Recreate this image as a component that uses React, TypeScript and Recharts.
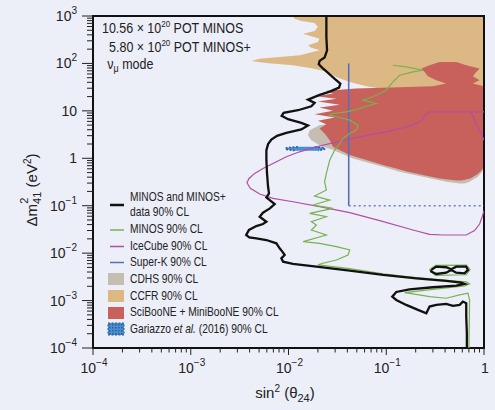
import { ComposedChart, XAxis, YAxis, Area, Scatter, ReferenceArea, Legend } from 'recharts';

type Pt = { x: number; y: number };
type Band = { y: number; x: [number, number] };

// MINOS + MINOS+ combined 90% CL contour (black)
const MINOS_PLUS: Pt[] = [
  { x: 0.0244, y: 1000 }, { x: 0.0244, y: 361 }, { x: 0.0248, y: 189 }, { x: 0.0234, y: 133 },
  { x: 0.0208, y: 113 }, { x: 0.0204, y: 96 }, { x: 0.0222, y: 80.4 }, { x: 0.0254, y: 63.1 },
  { x: 0.0297, y: 47.2 }, { x: 0.0339, y: 37.6 }, { x: 0.0329, y: 31 }, { x: 0.0264, y: 25.5 },
  { x: 0.0205, y: 21.4 }, { x: 0.01583, y: 17.3 }, { x: 0.0185, y: 14.7 }, { x: 0.01713, y: 12.5 },
  { x: 0.0125, y: 10.3 }, { x: 0.00892, y: 9.08 }, { x: 0.00851, y: 7.85 }, { x: 0.00988, y: 6.68 },
  { x: 0.01353, y: 5.59 }, { x: 0.01583, y: 4.91 }, { x: 0.01353, y: 4.05 }, { x: 0.0095, y: 3.44 },
  { x: 0.00763, y: 2.98 }, { x: 0.00668, y: 2.49 }, { x: 0.00618, y: 1.99 }, { x: 0.00594, y: 1.49 },
  { x: 0.00594, y: 0.914 }, { x: 0.00603, y: 0.48 }, { x: 0.00618, y: 0.251 }, { x: 0.00632, y: 0.182 },
  { x: 0.00594, y: 0.1497 }, { x: 0.00652, y: 0.1274 }, { x: 0.00722, y: 0.1084 }, { x: 0.00645, y: 0.0879 },
  { x: 0.00548, y: 0.0713 }, { x: 0.00507, y: 0.0586 }, { x: 0.00594, y: 0.046 }, { x: 0.00548, y: 0.0411 },
  { x: 0.00469, y: 0.0373 }, { x: 0.00394, y: 0.0308 }, { x: 0.00369, y: 0.0241 }, { x: 0.00397, y: 0.0215 },
  { x: 0.00469, y: 0.0205 }, { x: 0.00594, y: 0.0189 }, { x: 0.00751, y: 0.0161 }, { x: 0.00812, y: 0.01264 },
  { x: 0.00865, y: 0.01076 }, { x: 0.00914, y: 0.00915 }, { x: 0.00845, y: 0.00778 }, { x: 0.00879, y: 0.00662 },
  { x: 0.0111, y: 0.00591 }, { x: 0.0193, y: 0.0052 }, { x: 0.0423, y: 0.00428 }, { x: 0.0927, y: 0.00347 },
  { x: 0.203, y: 0.00295 }, { x: 0.411, y: 0.00259 }, { x: 0.585, y: 0.00239 }, { x: 0.633, y: 0.00224 },
  { x: 0.52, y: 0.00207 }, { x: 0.3, y: 0.00191 }, { x: 0.173, y: 0.00173 }, { x: 0.1266, y: 0.00152 },
  { x: 0.1152, y: 0.00121 }, { x: 0.1266, y: 0.00103 }, { x: 0.16, y: 0.00081 }, { x: 0.211, y: 0.000636 },
  { x: 0.257, y: 0.000541 }, { x: 0.2775, y: 0.000748 }, { x: 0.325, y: 0.00081 }, { x: 0.411, y: 0.000851 },
  { x: 0.481, y: 0.000773 }, { x: 0.563, y: 0.00081 }, { x: 0.608, y: 0.000952 }, { x: 0.658, y: 0.000879 },
  { x: 0.658, y: 0.00046 }, { x: 0.668, y: 0.000205 }, { x: 0.668, y: 0.0001 },
];

const MINOS_PLUS_ISLAND: Pt[] = [
  { x: 0.289, y: 0.00443 }, { x: 0.325, y: 0.0052 }, { x: 0.411, y: 0.00504 }, { x: 0.462, y: 0.00457 },
  { x: 0.52, y: 0.0052 }, { x: 0.658, y: 0.0052 }, { x: 0.685, y: 0.00443 }, { x: 0.633, y: 0.00376 },
  { x: 0.52, y: 0.00388 }, { x: 0.462, y: 0.00443 }, { x: 0.411, y: 0.00388 }, { x: 0.325, y: 0.00364 },
  { x: 0.289, y: 0.00408 }, { x: 0.289, y: 0.00443 },
];

// MINOS only 90% CL (green)
const MINOS: Pt[] = [
  { x: 0.117, y: 91.5 }, { x: 0.16, y: 84.4 }, { x: 0.237, y: 71.8 }, { x: 0.1875, y: 66.2 },
  { x: 0.137, y: 56.4 }, { x: 0.117, y: 40.8 }, { x: 0.1, y: 27.2 }, { x: 0.0792, y: 21.4 },
  { x: 0.0651, y: 18.2 }, { x: 0.0578, y: 16.8 }, { x: 0.0792, y: 14.3 }, { x: 0.0626, y: 12.5 },
  { x: 0.0494, y: 10.7 }, { x: 0.0391, y: 9.53 }, { x: 0.0285, y: 8.79 }, { x: 0.0264, y: 8.11 },
  { x: 0.0334, y: 7.24 }, { x: 0.0423, y: 6.36 }, { x: 0.0514, y: 4.99 }, { x: 0.0494, y: 3.92 },
  { x: 0.0423, y: 3.33 }, { x: 0.0361, y: 2.62 }, { x: 0.0334, y: 2.05 }, { x: 0.0297, y: 1.49 },
  { x: 0.0264, y: 0.914 }, { x: 0.0244, y: 0.48 }, { x: 0.0234, y: 0.32 }, { x: 0.0244, y: 0.214 },
  { x: 0.0185, y: 0.16 }, { x: 0.0264, y: 0.1316 }, { x: 0.0178, y: 0.1033 }, { x: 0.0285, y: 0.0879 },
  { x: 0.01646, y: 0.069 }, { x: 0.0244, y: 0.0586 }, { x: 0.01713, y: 0.046 }, { x: 0.0193, y: 0.0392 },
  { x: 0.01713, y: 0.0308 }, { x: 0.0244, y: 0.0241 }, { x: 0.0141, y: 0.01746 }, { x: 0.0208, y: 0.0161 },
  { x: 0.0309, y: 0.0137 }, { x: 0.0423, y: 0.01167 }, { x: 0.0406, y: 0.00915 }, { x: 0.0309, y: 0.00718 },
  { x: 0.0225, y: 0.00611 }, { x: 0.02, y: 0.00564 }, { x: 0.0423, y: 0.00472 }, { x: 0.0927, y: 0.00364 },
  { x: 0.203, y: 0.00305 }, { x: 0.4445, y: 0.00264 }, { x: 0.658, y: 0.00247 }, { x: 0.712, y: 0.00224 },
  { x: 0.633, y: 0.00204 }, { x: 0.3, y: 0.00173 }, { x: 0.154, y: 0.00147 }, { x: 0.1875, y: 0.00138 },
  { x: 0.2775, y: 0.00121 }, { x: 0.411, y: 0.00112 }, { x: 0.563, y: 0.00132 }, { x: 0.685, y: 0.00143 },
  { x: 0.712, y: 0.00103 }, { x: 0.701, y: 0.0001 },
];

const MINOS_ISLAND: Pt[] = [
  { x: 0.275, y: 0.0044 }, { x: 0.32, y: 0.0055 }, { x: 0.66, y: 0.0056 }, { x: 0.72, y: 0.0045 },
  { x: 0.66, y: 0.0035 }, { x: 0.32, y: 0.0034 }, { x: 0.275, y: 0.0044 },
];

// IceCube 90% CL (magenta)
const ICECUBE: Pt[] = [
  { x: 1, y: 9.53 }, { x: 0.2775, y: 9.53 }, { x: 0.247, y: 8.11 }, { x: 0.228, y: 6.16 },
  { x: 0.195, y: 5.41 }, { x: 0.173, y: 4.75 }, { x: 0.137, y: 4.25 }, { x: 0.108, y: 3.73 },
  { x: 0.0732, y: 3.23 }, { x: 0.0457, y: 2.62 }, { x: 0.0285, y: 2.12 }, { x: 0.0193, y: 1.75 },
  { x: 0.013, y: 1.37 }, { x: 0.0095, y: 1.076 }, { x: 0.00694, y: 0.778 }, { x: 0.00548, y: 0.611 },
  { x: 0.00451, y: 0.48 }, { x: 0.00394, y: 0.376 }, { x: 0.00376, y: 0.305 }, { x: 0.00407, y: 0.232 },
  { x: 0.00507, y: 0.176 }, { x: 0.00694, y: 0.1426 }, { x: 0.0111, y: 0.1214 }, { x: 0.0208, y: 0.0953 },
  { x: 0.0423, y: 0.0713 }, { x: 0.0857, y: 0.0483 }, { x: 0.1875, y: 0.0308 }, { x: 0.2775, y: 0.0249 },
  { x: 0.38, y: 0.0241 }, { x: 0.658, y: 0.0241 }, { x: 0.801, y: 0.0298 }, { x: 0.901, y: 0.0411 },
  { x: 0.959, y: 0.0586 }, { x: 1, y: 0.0785 },
];

const ICECUBE_BRANCH: Pt[] = [
  { x: 0.741, y: 9.53 }, { x: 0.77, y: 7.48 }, { x: 0.846, y: 4.99 }, { x: 0.937, y: 3.33 }, { x: 1, y: 2.4 },
];

// Super-K 90% CL (blue): solid vertical, dotted continuation
const SUPERK: Pt[] = [{ x: 0.0413, y: 100 }, { x: 0.0413, y: 0.1 }];
const SUPERK_DOTTED: Pt[] = [{ x: 0.0413, y: 0.1 }, { x: 1, y: 0.1 }];

// CCFR 90% CL (tan) excluded band at each dm2
const CCFR: Band[] = [
  { y: 1000, x: [0.0111, 1] }, { y: 879, x: [0.01156, 1] }, { y: 785, x: [0.01353, 1] },
  { y: 713, x: [0.0185, 1] }, { y: 586, x: [0.02, 1] }, { y: 483, x: [0.0185, 1] },
  { y: 425, x: [0.0141, 1] }, { y: 385, x: [0.01646, 1] }, { y: 333, x: [0.0208, 1] },
  { y: 284, x: [0.02, 1] }, { y: 241, x: [0.01583, 1] }, { y: 215, x: [0.01713, 1] },
  { y: 189, x: [0.0208, 1] }, { y: 149, x: [0.013, 1] }, { y: 126, x: [0.00507, 1] },
  { y: 113, x: [0.00417, 1] }, { y: 102.6, x: [0.00594, 1] }, { y: 91.5, x: [0.0111, 1] },
  { y: 77.8, x: [0.0178, 1] }, { y: 66.2, x: [0.0254, 1] }, { y: 52, x: [0.0309, 1] },
  { y: 40.8, x: [0.0423, 1] }, { y: 33, x: [0.0626, 1] }, { y: 25, x: [0.15, 1] },
];

// CDHS 90% CL (grey)
const CDHS: Band[] = [
  { y: 5.24, x: [0.0244, 1] }, { y: 4.99, x: [0.0208, 1] }, { y: 3.92, x: [0.01646, 1] },
  { y: 3.07, x: [0.01583, 1] }, { y: 2.41, x: [0.01713, 1] }, { y: 1.89, x: [0.0208, 1] },
  { y: 1.49, x: [0.0285, 1] }, { y: 0.992, x: [0.0457, 1] }, { y: 0.662, x: [0.0927, 1] },
  { y: 0.52, x: [0.137, 0.959] }, { y: 0.408, x: [0.237, 0.866] }, { y: 0.32, x: [0.411, 0.712] },
  { y: 0.295, x: [0.563, 0.633] },
];

// SciBooNE + MiniBooNE 90% CL (red)
const SCIBOONE: Band[] = [
  { y: 107.5, x: [0.351, 0.52] }, { y: 91.5, x: [0.2775, 0.658] }, { y: 77.8, x: [0.228, 0.901] },
  { y: 66.2, x: [0.247, 0.833] }, { y: 53.7, x: [0.267, 0.77] }, { y: 44.2, x: [0.325, 0.901] },
  { y: 37.6, x: [0.411, 0.77] }, { y: 33.1, x: [0.3, 1] }, { y: 29.5, x: [0.0494, 1] },
  { y: 26.4, x: [0.0244, 1] }, { y: 23.2, x: [0.0285, 1] }, { y: 20.4, x: [0.0193, 1] },
  { y: 17.9, x: [0.0309, 1] }, { y: 15.7, x: [0.02, 1] }, { y: 13.4, x: [0.0334, 1] },
  { y: 11.75, x: [0.0208, 1] }, { y: 10, x: [0.0285, 1] }, { y: 8.51, x: [0.0185, 1] },
  { y: 7.24, x: [0.0297, 1] }, { y: 6.16, x: [0.02, 1] }, { y: 5.24, x: [0.0244, 1] },
  { y: 4.25, x: [0.0208, 1] }, { y: 3.33, x: [0.0234, 1] }, { y: 2.41, x: [0.0264, 1] },
  { y: 1.75, x: [0.0285, 1] }, { y: 1.166, x: [0.0423, 1] }, { y: 0.718, x: [0.0927, 1] },
  { y: 0.611, x: [0.1266, 0.975] }, { y: 0.52, x: [0.1666, 0.916] }, { y: 0.442, x: [0.237, 0.833] },
  { y: 0.376, x: [0.351, 0.7235] }, { y: 0.341, x: [0.52, 0.585] },
];

// Gariazzo et al. (2016) 90% CL (blue patch)
const GARIAZZO: Band[] = [
  { y: 1.75, x: [0.0125, 0.0185] }, { y: 1.66, x: [0.0095, 0.0234] },
  { y: 1.55, x: [0.0093, 0.0234] }, { y: 1.45, x: [0.0115, 0.02] },
];

const X_MAJOR = [1e-4, 1e-3, 1e-2, 1e-1, 1];
const Y_MAJOR = [1e-4, 1e-3, 1e-2, 1e-1, 1, 10, 100, 1000];
const X_TICK_TEXT = [['10', '−4'], ['10', '−3'], ['10', '−2'], ['10', '−1'], ['1', '']];
const Y_TICK_TEXT = [['10', '−4'], ['10', '−3'], ['10', '−2'], ['10', '−1'], ['1', ''], ['10', ''], ['10', '2'], ['10', '3']];
const MINOR_STEPS = [2, 3, 4, 5, 6, 7, 8, 9];

const withMinor = (majors: number[]) =>
  majors.flatMap((m, i) => (i === majors.length - 1 ? [m] : [m, ...MINOR_STEPS.map((k) => m * k)]));
const X_TICKS = withMinor(X_MAJOR);
const Y_TICKS = withMinor(Y_MAJOR);

const LEGEND_ITEMS = [
  { label: ['MINOS and MINOS+', 'data 90% CL'], kind: 'line', color: '#111111' },
  { label: ['MINOS 90% CL'], kind: 'line', color: '#79b24f' },
  { label: ['IceCube 90% CL'], kind: 'line', color: '#b24ea6' },
  { label: ['Super-K 90% CL'], kind: 'line', color: '#5a6db8' },
  { label: ['CDHS 90% CL'], kind: 'box', color: '#c6bdb1' },
  { label: ['CCFR 90% CL'], kind: 'box', color: '#dcb884' },
  { label: ['SciBooNE + MiniBooNE 90% CL'], kind: 'box', color: '#c8605b' },
  { label: ['Gariazzo ', 'et al.', ' (2016) 90% CL'], kind: 'hatch', color: '#4a8fcf' },
];

const BG = '#eceef8';
const SANS = '"Liberation Sans", Arial, sans-serif';
const INK = '#222';
// the figure uses a condensed face; squeeze the regular one horizontally
const SQUEEZE = 0.8;

const majorIndex = (list: number[], v: number) => list.findIndex((m) => Math.abs(m - v) / m < 1e-6);

const noDot = () => <g />;

function XTick({ x, y, payload }: any) {
  const i = majorIndex(X_MAJOR, payload.value);
  return (
    <g>
      <line x1={x} x2={x} y1={y} y2={y + (i >= 0 ? 7 : 4.5)} stroke={INK} strokeWidth={1} />
      {i >= 0 && (
        <text x={x + 1} y={y + 25} textAnchor="middle" fontFamily={SANS} fontSize={14} fill={INK}>
          {X_TICK_TEXT[i][0]}
          {X_TICK_TEXT[i][1] && <tspan dy={-7} fontSize={10}>{X_TICK_TEXT[i][1]}</tspan>}
        </text>
      )}
    </g>
  );
}

function YTick({ x, y, payload }: any) {
  const i = majorIndex(Y_MAJOR, payload.value);
  return (
    <g>
      <line x1={x - (i >= 0 ? 11 : 6)} x2={x} y1={y} y2={y} stroke={INK} strokeWidth={1} />
      {i >= 0 && (
        <text x={x - 16} y={y + 5} textAnchor="end" fontFamily={SANS} fontSize={14} fill={INK}>
          {Y_TICK_TEXT[i][0]}
          {Y_TICK_TEXT[i][1] && <tspan dy={-7} fontSize={10}>{Y_TICK_TEXT[i][1]}</tspan>}
        </text>
      )}
    </g>
  );
}

const XTitle = () => (
  <text x={285} y={398} textAnchor="middle" fontFamily={SANS} fontSize={15} fill={INK}>
    sin<tspan dy={-6} fontSize={10}>2</tspan>
    <tspan dy={6}> (θ</tspan>
    <tspan dy={4} fontSize={11}>24</tspan>
    <tspan dy={-4}>)</tspan>
  </text>
);

const YTitle = () => (
  <text x={37} y={190} transform="rotate(-90 37 190)" textAnchor="middle" fontFamily={SANS} fontSize={15} fill={INK}>
    Δm<tspan dy={4} fontSize={11}>41</tspan>
    <tspan dx={-12} dy={-13} fontSize={11}>2</tspan>
    <tspan dx={6} dy={9}> (eV</tspan>
    <tspan dy={-6} fontSize={10}>2</tspan>
    <tspan dy={6}>)</tspan>
  </text>
);

const LEGEND_ROWS = [
  { swatch: 19, text: [15.5, 30.2] },
  { swatch: 44, text: [47] },
  { swatch: 60.5, text: [64] },
  { swatch: 76.5, text: [80] },
  { swatch: 87, text: [97] },
  { swatch: 104, text: [114] },
  { swatch: 121, text: [130] },
  { swatch: 137, text: [147] },
];

function renderLegend() {
  return (
    <svg width={250} height={160} style={{ overflow: 'visible' }}>
      <defs>
        <pattern id="gdots" width={3} height={3} patternUnits="userSpaceOnUse">
          <rect width={3} height={3} fill="#4a8fcf" />
          <rect width={1.5} height={1.5} fill="#2a5f9e" />
        </pattern>
      </defs>
      {LEGEND_ITEMS.map((item, i) => {
        const row = LEGEND_ROWS[i];
        return (
          <g key={i}>
            {item.kind === 'line' && (
              <line x1={10} x2={24} y1={row.swatch} y2={row.swatch} stroke={item.color} strokeWidth={i === 0 ? 2.5 : 1.5} />
            )}
            {item.kind === 'box' && <rect x={8} y={row.swatch} width={16} height={12} fill={item.color} />}
            {item.kind === 'hatch' && (
              <rect x={8} y={row.swatch} width={16} height={12} fill="url(#gdots)" stroke="#2a5f9e" strokeDasharray="2 1.5" />
            )}
            <g transform={`translate(30 0) scale(${SQUEEZE} 1)`}>
              {item.kind === 'hatch' ? (
                <text x={0} y={row.text[0]} fontFamily={SANS} fontSize={12.8} fill={INK}>
                  {item.label[0]}
                  <tspan fontStyle="italic">{item.label[1]}</tspan>
                  {item.label[2]}
                </text>
              ) : (
                item.label.map((t, k) => (
                  <text key={k} x={0} y={row.text[k]} fontFamily={SANS} fontSize={12.8} fill={INK}>
                    {t}
                  </text>
                ))
              )}
            </g>
          </g>
        );
      })}
    </svg>
  );
}

export default function App() {
  return (
    <div style={{ position: 'absolute', left: 0, top: 0, width: 495, height: 410, background: BG }}>
      <ComposedChart layout="vertical" width={495} height={410} margin={{ top: 16, right: 11, bottom: 0, left: 0 }}>
        <XAxis
          type="number"
          dataKey="x"
          scale="log"
          domain={[1e-4, 1]}
          allowDataOverflow
          ticks={X_TICKS}
          interval={0}
          tickSize={0}
          tickMargin={0}
          tickLine={false}
          axisLine={false}
          tick={(p: any) => <XTick {...p} />}
          height={62}
          label={XTitle}
        />
        <YAxis
          type="number"
          dataKey="y"
          scale="log"
          domain={[1e-4, 1000]}
          allowDataOverflow
          reversed
          ticks={Y_TICKS}
          interval={0}
          tickSize={0}
          tickMargin={0}
          tickLine={false}
          axisLine={false}
          tick={(p: any) => <YTick {...p} />}
          width={93}
          label={YTitle}
        />
        <Area data={CCFR} dataKey="x" type="linear" stroke="none" fill="#dcb884" fillOpacity={1} isAnimationActive={false} />
        <Area data={CDHS} dataKey="x" type="linear" stroke="none" fill="#c6bdb1" fillOpacity={1} isAnimationActive={false} />
        <Area data={SCIBOONE} dataKey="x" type="linear" stroke="none" fill="#c8605b" fillOpacity={1} isAnimationActive={false} />
        <Area
          data={GARIAZZO}
          dataKey="x"
          type="linear"
          stroke="#2a5f9e"
          strokeWidth={1.5}
          strokeDasharray="2 1.5"
          fill="#4a8fcf"
          fillOpacity={1}
          isAnimationActive={false}
        />
        <Scatter data={ICECUBE} line={{ stroke: '#b24ea6', strokeWidth: 1.2 }} shape={noDot} isAnimationActive={false} />
        <Scatter data={ICECUBE_BRANCH} line={{ stroke: '#b24ea6', strokeWidth: 1.2 }} shape={noDot} isAnimationActive={false} />
        <Scatter data={SUPERK} line={{ stroke: '#5a6db8', strokeWidth: 1.6 }} shape={noDot} isAnimationActive={false} />
        <Scatter
          data={SUPERK_DOTTED}
          line={{ stroke: '#6a7cc0', strokeWidth: 1.6, strokeDasharray: '2 3' }}
          shape={noDot}
          isAnimationActive={false}
        />
        <Scatter data={MINOS} line={{ stroke: '#79b24f', strokeWidth: 1.2 }} shape={noDot} isAnimationActive={false} />
        <Scatter data={MINOS_ISLAND} line={{ stroke: '#79b24f', strokeWidth: 1.2 }} shape={noDot} isAnimationActive={false} />
        <Scatter data={MINOS_PLUS} line={{ stroke: '#111111', strokeWidth: 2.3 }} shape={noDot} isAnimationActive={false} />
        <Scatter data={MINOS_PLUS_ISLAND} line={{ stroke: '#111111', strokeWidth: 2.3 }} shape={noDot} isAnimationActive={false} />
        <Legend
          content={renderLegend}
          layout="vertical"
          align="center"
          verticalAlign="middle"
          wrapperStyle={{ left: 100, top: 186, width: 250, height: 160 }}
        />
        <ReferenceArea x1={1e-4} x2={1} y1={1e-4} y2={1000} fill="none" stroke="#111" strokeWidth={2} ifOverflow="visible" />
      </ComposedChart>
      <svg width={300} height={80} style={{ position: 'absolute', left: 0, top: 0, pointerEvents: 'none' }}>
        <g transform="translate(102 0) scale(0.89 1)" fontFamily={SANS} fontSize={14} fill={INK}>
          <text x={0} y={33}>
            10.56 × 10<tspan dy={-6} fontSize={9}>20</tspan>
            <tspan dy={6}> POT MINOS</tspan>
          </text>
          <text x={8} y={52}>
            5.80 × 10<tspan dy={-6} fontSize={9}>20</tspan>
            <tspan dy={6}> POT MINOS+</tspan>
          </text>
          <text x={6} y={69}>
            ν<tspan dy={3} fontSize={10}>μ</tspan>
            <tspan dy={-3}> mode</tspan>
          </text>
        </g>
      </svg>
    </div>
  );
}
